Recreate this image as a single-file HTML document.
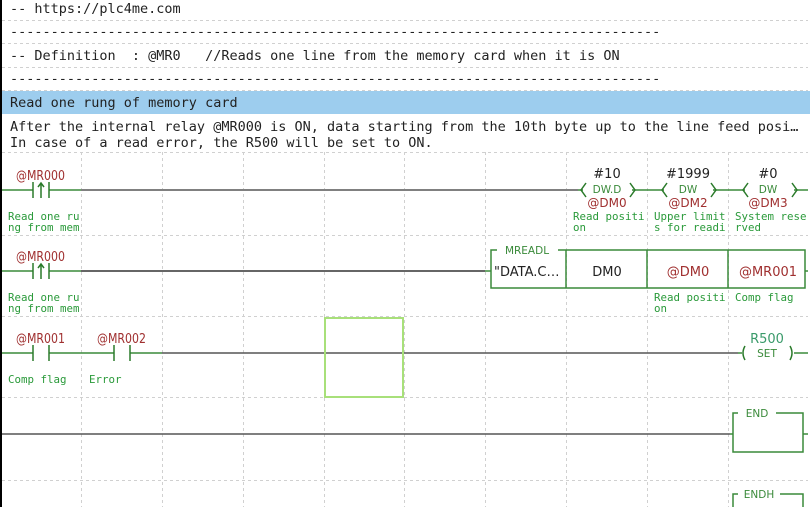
<!DOCTYPE html>
<html><head><meta charset="utf-8"><style>
html,body{margin:0;padding:0;background:#fff;width:810px;height:507px;overflow:hidden}
svg{display:block}
.m{font-family:"DejaVu Sans Mono","Liberation Mono",monospace;white-space:pre}
.s{font-family:"DejaVu Sans","Liberation Sans",sans-serif}
</style></head><body>
<svg width="810" height="507" viewBox="0 0 810 507" xmlns="http://www.w3.org/2000/svg">
<rect x="0" y="0" width="810" height="507" fill="#fff"/>
<rect x="0" y="0" width="2" height="507" fill="#000"/>
<g stroke="#d0d0d0" stroke-dasharray="3,3" stroke-width="1">
<line x1="2" y1="20.5" x2="808" y2="20.5"/>
<line x1="2" y1="43.5" x2="808" y2="43.5"/>
<line x1="2" y1="67.5" x2="808" y2="67.5"/>
<line x1="2" y1="90.5" x2="808" y2="90.5"/>
<line x1="2" y1="152.5" x2="808" y2="152.5"/>
<line x1="2" y1="235.5" x2="808" y2="235.5"/>
<line x1="2" y1="316.5" x2="808" y2="316.5"/>
<line x1="2" y1="397.5" x2="808" y2="397.5"/>
<line x1="2" y1="480.5" x2="808" y2="480.5"/>
<line x1="81.5" y1="152" x2="81.5" y2="507"/>
<line x1="162.5" y1="152" x2="162.5" y2="507"/>
<line x1="243.5" y1="152" x2="243.5" y2="507"/>
<line x1="324.5" y1="152" x2="324.5" y2="507"/>
<line x1="404.5" y1="152" x2="404.5" y2="507"/>
<line x1="485.5" y1="152" x2="485.5" y2="507"/>
<line x1="566.5" y1="152" x2="566.5" y2="507"/>
<line x1="647.5" y1="152" x2="647.5" y2="507"/>
<line x1="728.5" y1="152" x2="728.5" y2="507"/>
</g>
<rect x="2" y="91" width="808" height="23" fill="#9dcdee"/>
<g class="m" font-size="13.5" fill="#222">
<text x="10" y="13">-- https://plc4me.com</text>
<text x="10" y="36">--------------------------------------------------------------------------------</text>
<text x="10" y="60">-- Definition&#160;&#160;: @MR0&#160;&#160;&#160;//Reads one line from the memory card when it is ON</text>
<text x="10" y="83">--------------------------------------------------------------------------------</text>
<text x="10" y="107">Read one rung of memory card</text>
<text x="10" y="131">After the internal relay @MR000 is ON, data starting from the 10th byte up to the line feed posi…</text>
<text x="10" y="147">In case of a read error, the R500 will be set to ON.</text>
</g>
<!-- rung1 -->
<g stroke-width="1.5" fill="none">
<line x1="2" y1="190" x2="33" y2="190" stroke="#3a8a3a"/>
<line x1="49" y1="190" x2="81" y2="190" stroke="#3a8a3a"/>
<line x1="81" y1="190" x2="578" y2="190" stroke="#808080" stroke-width="2"/>
<line x1="33" y1="182" x2="33" y2="198" stroke="#2a7a2a"/>
<line x1="49" y1="182" x2="49" y2="198" stroke="#2a7a2a"/>
<path d="M41 198 V184 M38 187 L41 183 L44 187" stroke="#2a7a2a"/>
<line x1="578" y1="190" x2="583" y2="190" stroke="#3a8a3a"/>
<line x1="632" y1="190" x2="664" y2="190" stroke="#3a8a3a"/>
<line x1="713" y1="190" x2="745" y2="190" stroke="#3a8a3a"/>
<line x1="794" y1="190" x2="808" y2="190" stroke="#3a8a3a"/>
<path d="M586 183 L581 190 L586 197 M630 183 L635 190 L630 197" stroke="#2a7a2a"/>
<path d="M667 183 L662 190 L667 197 M711 183 L716 190 L711 197" stroke="#2a7a2a"/>
<path d="M748 183 L743 190 L748 197 M792 183 L797 190 L792 197" stroke="#2a7a2a"/>
</g>
<g class="s" font-size="13.5" fill="#a03030">
<text x="16" y="180" textLength="49" lengthAdjust="spacingAndGlyphs">@MR000</text>
<text x="16" y="261" textLength="49" lengthAdjust="spacingAndGlyphs">@MR000</text>
<text x="16" y="343" textLength="49" lengthAdjust="spacingAndGlyphs">@MR001</text>
<text x="97" y="343" textLength="49" lengthAdjust="spacingAndGlyphs">@MR002</text>
</g>
<g class="s" text-anchor="middle">
<text x="607" y="178" font-size="13" fill="#222">#10</text>
<text x="688" y="178" font-size="13" fill="#222">#1999</text>
<text x="768" y="178" font-size="13" fill="#222">#0</text>
<text x="607" y="193" font-size="10.5" fill="#3a8a3a">DW.D</text>
<text x="688" y="193" font-size="10.5" fill="#3a8a3a">DW</text>
<text x="768" y="193" font-size="10.5" fill="#3a8a3a">DW</text>
<text x="607" y="207" font-size="12" fill="#a03030">@DM0</text>
<text x="688" y="207" font-size="12" fill="#a03030">@DM2</text>
<text x="768" y="207" font-size="12" fill="#a03030">@DM3</text>
</g>
<g class="m" font-size="10.8" fill="#2a9a3a">
<text x="8" y="220">Read one ru</text><text x="8" y="231">ng from mem</text>
<text x="573" y="220">Read positi</text><text x="573" y="231">on</text>
<text x="654" y="220">Upper limit</text><text x="654" y="231">s for readi</text>
<text x="735" y="220">System rese</text><text x="735" y="231">rved</text>
<text x="8" y="301">Read one ru</text><text x="8" y="312">ng from mem</text>
<text x="654" y="301">Read positi</text><text x="654" y="312">on</text>
<text x="735" y="301">Comp flag</text>
<text x="8" y="383">Comp flag</text>
<text x="89" y="383">Error</text>
</g>
<!-- rung2 -->
<g stroke-width="1.5" fill="none">
<line x1="2" y1="271" x2="33" y2="271" stroke="#3a8a3a"/>
<line x1="49" y1="271" x2="81" y2="271" stroke="#3a8a3a"/>
<line x1="81" y1="271" x2="485" y2="271" stroke="#333"/>
<line x1="485" y1="271" x2="491" y2="271" stroke="#3a8a3a"/>
<line x1="33" y1="263" x2="33" y2="279" stroke="#2a7a2a"/>
<line x1="49" y1="263" x2="49" y2="279" stroke="#2a7a2a"/>
<path d="M41 279 V265 M38 268 L41 264 L44 268" stroke="#2a7a2a"/>
<path d="M491 256 V288 H805 V250 H558 M491 256 V250 H497" stroke="#3a8a3a"/>
<line x1="566" y1="250" x2="566" y2="288" stroke="#3a8a3a"/>
<line x1="647" y1="250" x2="647" y2="288" stroke="#3a8a3a"/>
<line x1="728" y1="250" x2="728" y2="288" stroke="#3a8a3a"/>
<line x1="805" y1="271" x2="808" y2="271" stroke="#3a8a3a"/>
</g>
<text x="527" y="254" class="s" font-size="10.5" fill="#3a8a3a" text-anchor="middle">MREADL</text>
<text x="494" y="276" class="s" font-size="13" fill="#222">"DATA.C…</text>
<g class="s" font-size="13" text-anchor="middle">
<text x="607" y="276" fill="#222">DM0</text>
<text x="688" y="276" fill="#a03030">@DM0</text>
<text x="768" y="276" fill="#a03030">@MR001</text>
</g>
<!-- rung3 -->
<g stroke-width="1.5" fill="none">
<line x1="2" y1="353" x2="33" y2="353" stroke="#3a8a3a"/>
<line x1="49" y1="353" x2="114" y2="353" stroke="#3a8a3a"/>
<line x1="130" y1="353" x2="162" y2="353" stroke="#3a8a3a"/>
<line x1="162" y1="353" x2="738" y2="353" stroke="#555"/>
<line x1="738" y1="353" x2="742" y2="353" stroke="#3a8a3a"/>
<line x1="794" y1="353" x2="808" y2="353" stroke="#3a8a3a"/>
<line x1="33" y1="345" x2="33" y2="361" stroke="#2a7a2a"/>
<line x1="49" y1="345" x2="49" y2="361" stroke="#2a7a2a"/>
<line x1="114" y1="345" x2="114" y2="361" stroke="#2a7a2a"/>
<line x1="130" y1="345" x2="130" y2="361" stroke="#2a7a2a"/>
<path d="M745 346 Q741 353 745 360 M790 346 Q794 353 790 360" stroke="#2a7a2a"/>
</g>
<text x="767" y="343" class="s" font-size="13" fill="#3a9a6a" text-anchor="middle">R500</text>
<text x="767" y="357" class="s" font-size="10.5" fill="#3a8a3a" text-anchor="middle">SET</text>
<rect x="325" y="318" width="78" height="79" fill="none" stroke="#a8e07a" stroke-width="2"/>
<!-- rung4 -->
<g stroke-width="1.5" fill="none">
<line x1="2" y1="434" x2="730" y2="434" stroke="#555"/>
<line x1="730" y1="434" x2="733" y2="434" stroke="#3a8a3a"/>
<path d="M733 418 V452 H803 V413 H776 M733 418 V413 H738" stroke="#3a8a3a"/>
<line x1="803" y1="434" x2="808" y2="434" stroke="#3a8a3a"/>
<path d="M733 507 V494 H738 M780 494 H803 V507" stroke="#3a8a3a"/>
</g>
<text x="757" y="417" class="s" font-size="10.5" fill="#3a8a3a" text-anchor="middle">END</text>
<text x="759" y="498" class="s" font-size="10.5" fill="#3a8a3a" text-anchor="middle">ENDH</text>
</svg>
</body></html>
